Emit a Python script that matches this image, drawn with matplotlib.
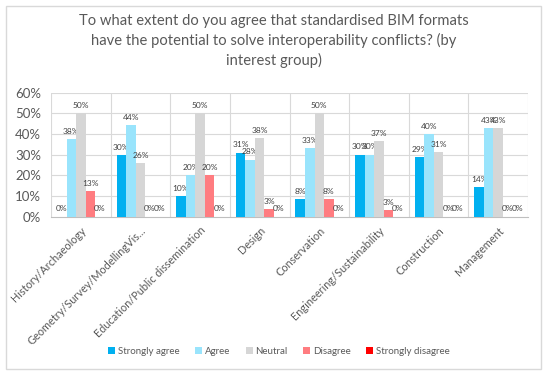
import numpy as np
import matplotlib.pyplot as plt
from matplotlib.patches import Rectangle

plt.rcParams['font.family'] = ['Lato', 'DejaVu Sans']

# data (percent of respondents per interest group)
groups = ['History/Archaeology', 'Geometry/Survey/ModellingVis...',
          'Education/Public dissemination', 'Design', 'Conservation',
          'Engineering/Sustainability', 'Construction', 'Management']
answers = ['Strongly agree', 'Agree', 'Neutral', 'Disagree', 'Strongly disagree']

strongly_agree = [0, 29.6, 10, 31.0, 8.3, 30, 28.6, 14.3]
agree = [37.5, 44.4, 20, 27.6, 33.3, 30, 40, 42.9]
neutral = [50, 25.9, 50, 37.9, 50, 36.7, 31.4, 42.9]
disagree = [12.5, 0, 20, 3.4, 8.3, 3.3, 0, 0]
strongly_disagree = [0, 0, 0, 0, 0, 0, 0, 0]

series = [strongly_agree, agree, neutral, disagree, strongly_disagree]
colors = ['#00B0F0', '#99E4FC', '#D6D6D6', '#FF7C80', '#FF0000']

grey = '#595959'

fig = plt.figure(figsize=(5.5, 3.74), dpi=100)
ax = fig.add_axes([51/550, 1 - 216.5/374, (528 - 51)/550, (216.5 - 92.7)/374])

# outer chart frame
fig.patches.append(Rectangle((6/550, 1 - 369/374), 535/550, 363/374,
                             transform=fig.transFigure, fill=False,
                             edgecolor='#D9D9D9', linewidth=1.0))

x = np.arange(len(groups))
w = 0.16
for k in range(5):
    pos = x + (k - 2) * w
    bars = ax.bar(pos, series[k], w, color=colors[k], label=answers[k], zorder=3)
    for b, v in zip(bars, series[k]):
        ax.annotate(f'{int(v + 0.5)}%', (b.get_x() + b.get_width()/2, v),
                    xytext=(0, 3), textcoords='offset points',
                    ha='center', va='bottom', fontsize=6, color='#404040')

ax.set_xlim(-0.5, len(groups) - 0.5)
ax.set_ylim(0, 60)
ax.set_yticks(np.arange(0, 61, 10))
ax.set_yticklabels([f'{t}%' for t in range(0, 61, 10)], color=grey, fontsize=9.5)

ax.set_xticks(x)
ax.set_xticklabels(groups, rotation=45, ha='right', rotation_mode='anchor',
                   fontsize=7.8, color=grey)
ax.tick_params(axis='both', length=0)
ax.tick_params(axis='y', pad=7)
ax.tick_params(axis='x', pad=6)

# gridlines: horizontal at each 10%, vertical between groups
for t in range(10, 61, 10):
    ax.axhline(t, color='#D9D9D9', linewidth=0.8, zorder=0)
for b in np.arange(-0.5, len(groups), 1.0):
    ax.axvline(b, color='#D9D9D9', linewidth=0.8, zorder=0)

for s in ['top', 'right', 'left']:
    ax.spines[s].set_visible(False)
ax.spines['bottom'].set_color('#BFBFBF')
ax.spines['bottom'].set_linewidth(0.8)

fig.text(273.5/550, 1 - 14/374,
         'To what extent do you agree that standardised BIM formats\n'
         'have the potential to solve interoperability conflicts? (by\n'
         'interest group)',
         ha='center', va='top', fontsize=10.6, color=grey, linespacing=1.42)

fig.legend(loc='center', bbox_to_anchor=(279/550, 1 - 351/374), ncol=5,
           frameon=False, fontsize=7, handlelength=0.7, handleheight=0.7,
           handletextpad=0.3, columnspacing=1.6, labelcolor=grey)

fig.savefig('out.png', dpi=100)
